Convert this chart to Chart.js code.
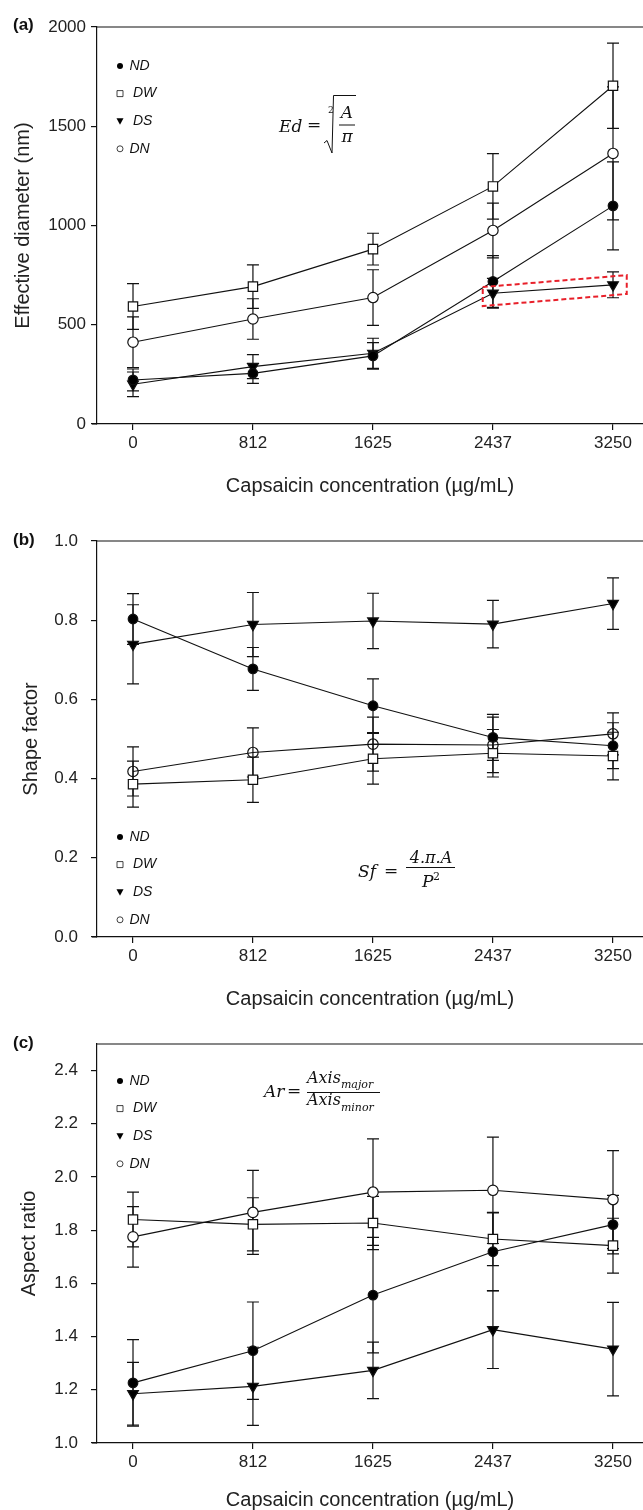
<!DOCTYPE html>
<html>
<head>
<meta charset="utf-8">
<script src="https://cdn.jsdelivr.net/npm/chart.js@4/dist/chart.umd.min.js"></script>
<style>
  html, body { margin: 0; padding: 0; background: #fff; }
  body { width: 643px; height: 1510px; position: relative; overflow: hidden; }
  .panel { position: absolute; left: 0; width: 643px; }
</style>
</head>
<body>
<div class="panel" style="top:0;height:496px"><canvas id="chartA"></canvas></div>
<div class="panel" style="top:496px;height:513px"><canvas id="chartB"></canvas></div>
<div class="panel" style="top:1009px;height:501px"><canvas id="chartC"></canvas></div>
<script>
// x categories (capsaicin, ug/mL)
const concentrations = [0, 812, 1625, 2437, 3250]
const concLabels = ['0', '812', '1625', '2437', '3250']
const seriesNames = ['ND', 'DW', 'DS', 'DN']

// (a) effective diameter, nm
const edND = [222, 255, 343, 718, 1099]
const edNDErr = [55, 50, 67, 130, 222]
const edDW = [592, 692, 881, 1197, 1704]
const edDWErr = [115, 110, 80, 165, 215]
const edDS = [200, 289, 356, 659, 701]
const edDSErr = [62, 60, 76, 75, 65]
const edDN = [412, 529, 637, 975, 1363]
const edDNErr = [128, 102, 140, 138, 335]
const edTicks = [0, 500, 1000, 1500, 2000]
// red dashed highlight round DS at 2437..3250, in data units
const edHighlight = [[2368, 690], [3343, 750], [3343, 655], [2368, 594]]

// (b) shape factor
const sfND = [0.803, 0.677, 0.584, 0.504, 0.483]
const sfNDErr = [0.064, 0.054, 0.068, 0.058, 0.058]
const sfDW = [0.386, 0.397, 0.450, 0.464, 0.457]
const sfDWErr = [0.058, 0.057, 0.064, 0.060, 0.060]
const sfDS = [0.739, 0.789, 0.798, 0.790, 0.842]
const sfDSErr = [0.100, 0.081, 0.070, 0.060, 0.065]
const sfDN = [0.418, 0.466, 0.487, 0.485, 0.513]
const sfDNErr = [0.062, 0.062, 0.068, 0.070, 0.053]
const sfTicks = [0, 0.2, 0.4, 0.6, 0.8, 1.0]

// (c) aspect ratio
const arND = [1.226, 1.347, 1.556, 1.719, 1.821]
const arNDErr = [0.163, 0.183, 0.217, 0.146, 0.110]
const arDW = [1.840, 1.822, 1.827, 1.767, 1.742]
const arDWErr = [0.103, 0.100, 0.100, 0.100, 0.103]
const arDS = [1.185, 1.213, 1.273, 1.426, 1.353]
const arDSErr = [0.118, 0.147, 0.106, 0.146, 0.176]
const arDN = [1.775, 1.867, 1.943, 1.950, 1.915]
const arDNErr = [0.114, 0.158, 0.200, 0.200, 0.184]
const arTicks = [1.0, 1.2, 1.4, 1.6, 1.8, 2.0, 2.2, 2.4]

const INK = '#111'
const SANS = '"Liberation Sans", Arial, sans-serif'
const SERIF = '"DejaVu Serif", serif'

const markers = {
  ND: { pointStyle: 'circle', radius: 4.8, fill: '#000', rotation: 0 },
  DW: { pointStyle: 'rect', radius: 6.6, fill: '#fff', rotation: 0 },
  DS: { pointStyle: 'triangle', radius: 6.2, fill: '#000', rotation: 180 },
  DN: { pointStyle: 'circle', radius: 5.2, fill: '#fff', rotation: 0 }
}

function makeDataset(name, values, errors, fillOverride) {
  let m = markers[name]
  return {
    label: name,
    data: concentrations.map((x, i) => ({ x: x, y: values[i] })),
    errors: errors,
    borderColor: INK,
    borderWidth: 1.1,
    tension: 0,
    fill: false,
    pointStyle: m.pointStyle,
    pointRadius: m.radius,
    pointRotation: m.rotation,
    pointBackgroundColor: fillOverride || m.fill,
    pointBorderColor: INK,
    pointBorderWidth: 1.2
  }
}

const errorBars = {
  id: 'errorBars',
  beforeDatasetsDraw(chart) {
    const ctx = chart.ctx
    const xs = chart.scales.x, ys = chart.scales.y
    ctx.save()
    ctx.strokeStyle = INK
    ctx.lineWidth = 1.2
    chart.data.datasets.forEach(ds => {
      ds.data.forEach((p, i) => {
        let e = ds.errors[i]
        let px = xs.getPixelForValue(p.x)
        let top = ys.getPixelForValue(p.y + e)
        let bot = ys.getPixelForValue(p.y - e)
        ctx.beginPath()
        ctx.moveTo(px, top); ctx.lineTo(px, bot)
        ctx.moveTo(px - 6, top); ctx.lineTo(px + 6, top)
        ctx.moveTo(px - 6, bot); ctx.lineTo(px + 6, bot)
        ctx.stroke()
      })
    })
    ctx.restore()
  }
}

function legendMarker(ctx, name, x, y) {
  ctx.beginPath()
  if (name == 'ND') {
    ctx.arc(x, y, 3, 0, Math.PI * 2); ctx.fillStyle = '#000'; ctx.fill()
  } else if (name == 'DW') {
    ctx.rect(x - 3, y - 3, 6, 6); ctx.fillStyle = '#fff'; ctx.fill(); ctx.stroke()
  } else if (name == 'DS') {
    ctx.moveTo(x - 3.5, y - 3); ctx.lineTo(x + 3.5, y - 3); ctx.lineTo(x, y + 3.5); ctx.closePath()
    ctx.fillStyle = '#000'; ctx.fill()
  } else {
    ctx.arc(x, y, 3, 0, Math.PI * 2); ctx.fillStyle = '#fff'; ctx.fill(); ctx.stroke()
  }
}

function txt(ctx, s, x, y, font, align) {
  ctx.font = font
  ctx.textAlign = align || 'left'
  ctx.fillText(s, x, y)
  return ctx.measureText(s).width
}

// formulas, drawn in page coordinates (ctx translated by panel top)
function formulaEd(ctx) {
  txt(ctx, 'Ed', 279, 132, 'italic 17px ' + SERIF)
  txt(ctx, '=', 307, 130, '17px ' + SERIF)
  txt(ctx, '2', 328, 113, '9px ' + SERIF)
  ctx.beginPath()
  ctx.moveTo(324, 143); ctx.lineTo(327, 140.5); ctx.lineTo(332, 153); ctx.lineTo(333.5, 95.5); ctx.lineTo(356, 95.5)
  ctx.moveTo(339, 125); ctx.lineTo(355, 125)
  ctx.stroke()
  txt(ctx, 'A', 347, 118, 'italic 17px ' + SERIF, 'center')
  txt(ctx, 'π', 347, 142, 'italic 17px ' + SERIF, 'center')
}
function formulaSf(ctx) {
  txt(ctx, 'Sf', 358, 877, 'italic 17px ' + SERIF)
  txt(ctx, '=', 384, 876, '17px ' + SERIF)
  txt(ctx, '4.π.A', 431, 863, 'italic 16px ' + SERIF, 'center')
  ctx.beginPath(); ctx.moveTo(406, 867.5); ctx.lineTo(455, 867.5); ctx.stroke()
  txt(ctx, 'P', 422, 887, 'italic 17px ' + SERIF)
  txt(ctx, '2', 433, 880, '11px ' + SERIF)
}
function formulaAr(ctx) {
  txt(ctx, 'Ar', 264, 1097, 'italic 17px ' + SERIF)
  txt(ctx, '=', 287, 1096, '17px ' + SERIF)
  let w = txt(ctx, 'Axis', 307, 1083, 'italic 16px ' + SERIF)
  txt(ctx, 'major', 307 + w, 1088, 'italic 11px ' + SERIF)
  ctx.beginPath(); ctx.moveTo(307, 1092.5); ctx.lineTo(380, 1092.5); ctx.stroke()
  w = txt(ctx, 'Axis', 307, 1105, 'italic 16px ' + SERIF)
  txt(ctx, 'minor', 307 + w, 1111, 'italic 11px ' + SERIF)
}

function decorations(cfg) {
  return {
    id: 'deco',
    afterDraw(chart) {
      const ctx = chart.ctx
      const a = chart.chartArea
      ctx.save()
      ctx.strokeStyle = INK
      ctx.fillStyle = INK
      ctx.lineWidth = 1.2
      // top frame line, and the bottom axis running a little past the y axis
      ctx.beginPath()
      ctx.moveTo(a.left, a.top); ctx.lineTo(chart.width, a.top)
      ctx.moveTo(a.left - 5, a.bottom); ctx.lineTo(a.left, a.bottom)
      ctx.stroke()
      // panel letter
      ctx.textBaseline = 'middle'
      txt(ctx, cfg.letter, 13, cfg.letterY, 'bold 17px ' + SANS)
      // legend
      seriesNames.forEach((n, i) => {
        let y = cfg.legendY + i * 27.6
        ctx.lineWidth = 0.8
        legendMarker(ctx, n, 120, y)
        ctx.fillStyle = INK
        txt(ctx, n, (n == 'DW' || n == 'DS') ? 133 : 129.5, y, 'italic 14px ' + SANS)
      })
      ctx.lineWidth = 1
      ctx.textBaseline = 'alphabetic'
      ctx.translate(0, -cfg.top)
      cfg.formula(ctx)
      ctx.restore()
      if (cfg.highlight) {
        const xs = chart.scales.x, ys = chart.scales.y
        ctx.save()
        ctx.strokeStyle = '#e8202a'
        ctx.lineWidth = 2
        ctx.setLineDash([5, 3])
        ctx.beginPath()
        cfg.highlight.forEach((c, i) => {
          let px = xs.getPixelForValue(c[0]), py = ys.getPixelForValue(c[1])
          if (i == 0) ctx.moveTo(px, py); else ctx.lineTo(px, py)
        })
        ctx.closePath()
        ctx.stroke()
        ctx.restore()
      }
    }
  }
}

function makeChart(id, cfg) {
  return new Chart(document.getElementById(id), {
    type: 'line',
    data: { datasets: cfg.datasets },
    plugins: [errorBars, decorations(cfg)],
    options: {
      animation: false,
      responsive: true,
      maintainAspectRatio: false,
      layout: { autoPadding: false, padding: { top: cfg.padTop, left: 0, right: 0, bottom: 0 } },
      plugins: { legend: { display: false }, tooltip: { enabled: false } },
      scales: {
        x: {
          type: 'linear',
          min: -243.8,
          max: 3453.1,
          border: { color: INK, width: 1.2 },
          grid: { drawOnChartArea: false, drawTicks: true, tickLength: 6, color: INK, lineWidth: 1.2 },
          afterBuildTicks: s => { s.ticks = concentrations.map(v => ({ value: v })) },
          afterFit: s => { s.height = cfg.xHeight },
          ticks: {
            autoSkip: false, maxRotation: 0, padding: 3, color: '#222',
            font: { family: SANS, size: 17 },
            callback: v => { let i = concentrations.indexOf(v); return i >= 0 ? concLabels[i] : '' }
          },
          title: {
            display: true, text: 'Capsaicin concentration (µg/mL)', color: '#222',
            font: { family: SANS, size: 20, lineHeight: 1 }, padding: { top: 0, bottom: 0 }
          }
        },
        y: {
          type: 'linear',
          min: cfg.yMin,
          max: cfg.yMax,
          border: { color: INK, width: 1.2 },
          grid: { drawOnChartArea: false, drawTicks: true, tickLength: 6, color: INK, lineWidth: 1.2 },
          afterBuildTicks: s => { s.ticks = cfg.yTicks.map(v => ({ value: v })) },
          afterFit: s => { s.width = 97 },
          ticks: {
            padding: cfg.yPad, color: '#222',
            font: { family: SANS, size: 17 },
            callback: v => Number(v).toFixed(cfg.decimals)
          },
          title: {
            display: true, text: cfg.yTitle, color: '#222',
            font: { family: SANS, size: 20, lineHeight: 1 }, padding: { top: cfg.yTitlePad, bottom: 0 }
          }
        }
      }
    }
  })
}

makeChart('chartA', {
  top: 0, padTop: 27, xHeight: 72, yMin: 0, yMax: 2000, yTicks: edTicks, decimals: 0,
  yPad: 5, yTitle: 'Effective diameter (nm)', yTitlePad: 13,
  letter: '(a)', letterY: 25, legendY: 66, formula: formulaEd, highlight: edHighlight,
  datasets: [
    makeDataset('ND', edND, edNDErr),
    makeDataset('DW', edDW, edDWErr),
    makeDataset('DS', edDS, edDSErr),
    makeDataset('DN', edDN, edDNErr)
  ]
})

makeChart('chartB', {
  top: 496, padTop: 45, xHeight: 72, yMin: 0, yMax: 1.0, yTicks: sfTicks, decimals: 1,
  yPad: 13, yTitle: 'Shape factor', yTitlePad: 21,
  letter: '(b)', letterY: 44, legendY: 341, formula: formulaSf,
  datasets: [
    makeDataset('ND', sfND, sfNDErr),
    makeDataset('DW', sfDW, sfDWErr),
    makeDataset('DS', sfDS, sfDSErr),
    makeDataset('DN', sfDN, sfDNErr, 'rgba(255,255,255,0)')
  ]
})

makeChart('chartC', {
  top: 1009, padTop: 35, xHeight: 67, yMin: 1.0, yMax: 2.5, yTicks: arTicks, decimals: 1,
  yPad: 13, yTitle: 'Aspect ratio', yTitlePad: 19,
  letter: '(c)', letterY: 34, legendY: 72, formula: formulaAr,
  datasets: [
    makeDataset('ND', arND, arNDErr),
    makeDataset('DW', arDW, arDWErr),
    makeDataset('DS', arDS, arDSErr),
    makeDataset('DN', arDN, arDNErr)
  ]
})
</script>
</body>
</html>
